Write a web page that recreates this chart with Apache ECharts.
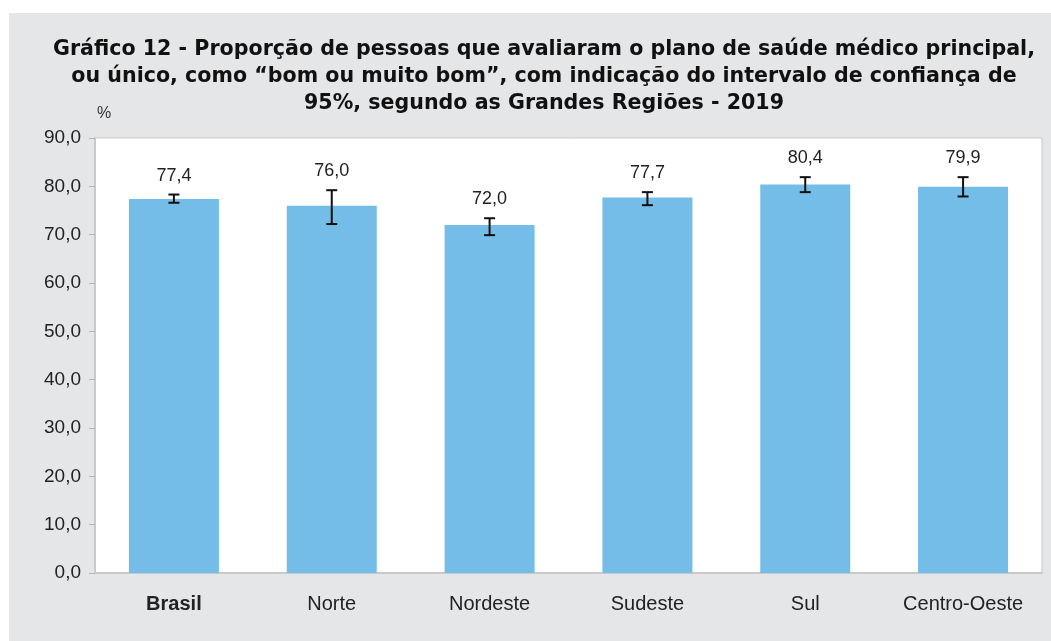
<!DOCTYPE html>
<html>
<head>
<meta charset="utf-8">
<script src="https://cdn.jsdelivr.net/npm/echarts@6/dist/echarts.min.js"></script>
<style>
  html, body { margin: 0; padding: 0; background: #ffffff; }
  #panel { position: absolute; left: 9px; top: 13px; width: 1042px; height: 628px; background: #e5e6e8; }
  #chart { position: absolute; left: 0; top: 0; width: 1051px; height: 641px; }
</style>
</head>
<body>
<div id="panel"></div>
<div id="chart"></div>
<script>
// dados do gráfico
var regioes = ['Brasil', 'Norte', 'Nordeste', 'Sudeste', 'Sul', 'Centro-Oeste'];
var proporcao = [77.4, 76.0, 72.0, 77.7, 80.4, 79.9];
// intervalo de confiança de 95%
var icInferior = [76.6, 72.2, 69.9, 76.1, 78.8, 77.9];
var icSuperior = [78.3, 79.2, 73.4, 78.8, 81.9, 81.9];

var fmt = function (v) { return v.toFixed(1).replace('.', ','); };

var errData = regioes.map(function (r, i) { return [i, icInferior[i], icSuperior[i], proporcao[i]]; });

var myChart = echarts.init(document.getElementById('chart'));

var option = {
  backgroundColor: 'transparent',
  animation: false,
  title: {
    text: 'Gráfico 12 - Proporção de pessoas que avaliaram o plano de saúde médico principal,\nou único, como “bom ou muito bom”, com indicação do intervalo de confiança de\n95%, segundo as Grandes Regiões - 2019',
    left: 539,
    top: 31,
    textAlign: 'center',
    textStyle: {
      fontFamily: 'DejaVu Sans',
      fontWeight: 'bold',
      fontSize: 20.6,
      lineHeight: 27,
      color: '#111'
    }
  },
  graphic: [{
    type: 'text',
    left: 97,
    top: 106,
    style: { text: '%', font: '16px "Liberation Sans"', fill: '#333' }
  }],
  grid: {
    left: 95, right: 9, top: 138, bottom: 68,
    show: true,
    backgroundColor: '#ffffff',
    borderColor: '#c9c9c9',
    borderWidth: 1
  },
  xAxis: {
    type: 'category',
    data: regioes,
    axisLine: { lineStyle: { color: '#c9c9c9', width: 2 } },
    axisTick: { show: false },
    axisLabel: {
      margin: 21,
      fontSize: 20,
      fontFamily: 'Liberation Sans',
      color: '#222',
      formatter: function (v) { return v === 'Brasil' ? '{b|' + v + '}' : v; },
      rich: { b: { fontWeight: 'bold', fontSize: 20, fontFamily: 'Liberation Sans', color: '#222' } }
    }
  },
  yAxis: {
    type: 'value',
    min: 0,
    max: 90,
    interval: 10,
    axisLine: { show: true, lineStyle: { color: '#c9c9c9', width: 2 } },
    axisTick: { show: true, length: 6, lineStyle: { color: '#b5b5b5' } },
    splitLine: { show: false },
    axisLabel: {
      margin: 14,
      fontSize: 19,
      fontFamily: 'Liberation Sans',
      color: '#222',
      formatter: function (v) { return fmt(v); }
    }
  },
  series: [
    {
      type: 'bar',
      data: proporcao,
      barWidth: 90,
      itemStyle: { color: '#74bde8' }
    },
    {
      type: 'custom',
      data: errData,
      z: 5,
      renderItem: function (params, api) {
        var x = api.coord([api.value(0), api.value(1)])[0];
        var yLo = api.coord([api.value(0), api.value(1)])[1];
        var yHi = api.coord([api.value(0), api.value(2)])[1];
        var cap = 5.5;
        var st = { stroke: '#111', lineWidth: 2 };
        return {
          type: 'group',
          children: [
            { type: 'line', shape: { x1: x, y1: yHi, x2: x, y2: yLo }, style: st },
            { type: 'line', shape: { x1: x - cap, y1: yHi, x2: x + cap, y2: yHi }, style: st },
            { type: 'line', shape: { x1: x - cap, y1: yLo, x2: x + cap, y2: yLo }, style: st },
            {
              type: 'text',
              x: x, y: yHi - 10,
              style: {
                text: fmt(api.value(3)),
                font: '18px "Liberation Sans"',
                fill: '#222',
                align: 'center',
                verticalAlign: 'bottom'
              }
            }
          ]
        };
      }
    }
  ]
};

myChart.setOption(option);
</script>
</body>
</html>
